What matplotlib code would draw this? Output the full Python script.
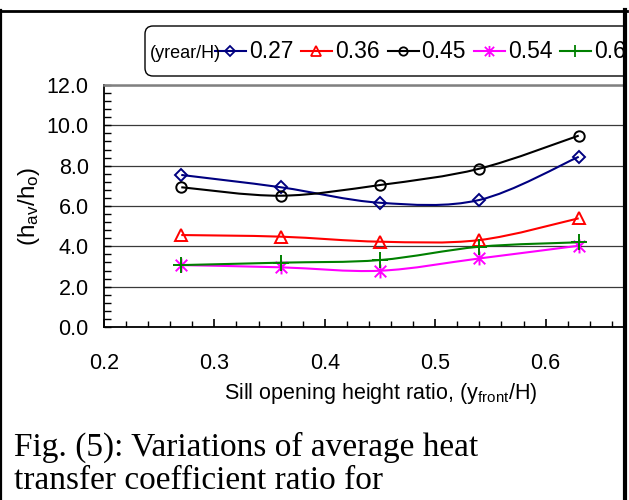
import matplotlib
matplotlib.use("Agg")
import matplotlib.pyplot as plt
from matplotlib.path import Path
from matplotlib.patches import PathPatch, FancyBboxPatch, Rectangle
from matplotlib.lines import Line2D
from matplotlib.ticker import MultipleLocator, FormatStrFormatter

plt.rcParams["font.family"] = ["Liberation Sans", "DejaVu Sans"]

# ---- Data ----
x_ratio = [0.27, 0.36, 0.45, 0.54, 0.63]
h_027 = [7.54, 6.93, 6.16, 6.30, 8.44]
h_036 = [4.56, 4.48, 4.23, 4.31, 5.39]
h_045 = [6.93, 6.51, 7.04, 7.85, 9.49]
h_054 = [3.07, 2.96, 2.79, 3.40, 4.03]
h_063 = [3.07, 3.19, 3.32, 3.98, 4.20]
series_labels = ["0.27", "0.36", "0.45", "0.54", "0.63"]
x_ticks = [0.2, 0.3, 0.4, 0.5, 0.6]

# Excel style star marker: an X with a vertical bar
star = Path([(-1, -1), (1, 1), (-1, 1), (1, -1), (0, -1.2), (0, 1.2)],
            [Path.MOVETO, Path.LINETO] * 3)

styles = [
    dict(color="#000080", marker="D", ms=6.5),
    dict(color="#FF0000", marker="^", ms=9),
    dict(color="#000000", marker="o", ms=7.5),
    dict(color="#FF00FF", marker=star, ms=10),
    dict(color="#008000", marker="+", ms=11),
]


def smooth_path(xs, ys):
    # smoothed line like Excel: cubic Bezier through each point
    pts = list(zip(xs, ys))
    verts = [pts[0]]
    codes = [Path.MOVETO]
    n = len(pts)
    for i in range(n - 1):
        p0 = pts[max(i - 1, 0)]
        p1 = pts[i]
        p2 = pts[i + 1]
        p3 = pts[min(i + 2, n - 1)]
        c1 = (p1[0] + (p2[0] - p0[0]) / 6, p1[1] + (p2[1] - p0[1]) / 6)
        c2 = (p2[0] - (p3[0] - p1[0]) / 6, p2[1] - (p3[1] - p1[1]) / 6)
        verts += [c1, c2, p2]
        codes += [Path.CURVE4] * 3
    return Path(verts, codes)


W, H = 629, 500
fig = plt.figure(figsize=(W / 100, H / 100), dpi=100)
# plot area runs past the right edge of the picture (it was cropped)
ax = fig.add_axes([104 / W, 1 - 327 / H, (656 - 104) / W, (327 - 85) / H])

all_series = [h_027, h_036, h_045, h_054, h_063]
for ys, st in zip(all_series, styles):
    ax.add_patch(PathPatch(smooth_path(x_ratio, ys), facecolor="none",
                           edgecolor=st["color"], lw=1.5, zorder=3))
    ax.plot(x_ratio, ys, linestyle="none", marker=st["marker"], ms=st["ms"],
            mec=st["color"], mfc="none", mew=1.4, zorder=4)

ax.set_xlim(0.2, 0.7)
ax.set_ylim(0, 12)
ax.xaxis.set_major_locator(MultipleLocator(0.1))
ax.xaxis.set_minor_locator(MultipleLocator(0.02))
ax.yaxis.set_major_locator(MultipleLocator(2))
ax.yaxis.set_minor_locator(MultipleLocator(0.4))
ax.set_xticks(x_ticks)
ax.xaxis.set_major_formatter(FormatStrFormatter("%.1f"))
ax.yaxis.set_major_formatter(FormatStrFormatter("%.1f"))
ax.tick_params(which="both", direction="in", labelsize=15.5)
ax.tick_params(axis="x", which="major", length=6, width=1.2, pad=18.5)
ax.tick_params(axis="x", which="minor", length=4, width=1)
ax.tick_params(axis="y", which="major", length=5, width=1, pad=11)
ax.tick_params(axis="y", which="minor", length=5, width=1)
ax.grid(axis="y", which="major", color="#3a3a3a", lw=0.9)
ax.set_axisbelow(True)

for s in ["left", "bottom"]:
    ax.spines[s].set_linewidth(1.3)
ax.spines["top"].set_color("#808080")
ax.spines["top"].set_linewidth(1.8)
ax.spines["right"].set_visible(False)

ax.set_ylabel(r"($\mathregular{h_{av}/h_o}$)", fontsize=17.5)
ax.yaxis.set_label_coords((42 - 104) / 552, 0.5)
ax.set_xlabel(r"Sill opening height ratio, ($\mathregular{y_{front}}$/H)", fontsize=15.5)
ax.xaxis.set_label_coords((381 - 104) / 552, (327 - 381) / 242)

# ---- legend drawn by hand (inches from bottom-left) ----
tr = fig.dpi_scale_trans
box = FancyBboxPatch((145 / 100, (H - 76) / 100), 6.0, 0.50,
                     boxstyle="round,pad=0,rounding_size=0.08",
                     transform=tr, facecolor="white", edgecolor="black",
                     lw=1.0, zorder=5)
fig.patches.append(box)
fig.text(150 / 100, (H - 53) / 100, "(yrear/H)", transform=tr, fontsize=13,
         va="center", ha="left", zorder=6)
leg_y = (H - 51) / 100
for i, (lab, st) in enumerate(zip(series_labels, styles)):
    x0 = 215 + i * 86.3
    fig.add_artist(Line2D([x0 / 100, (x0 + 31) / 100], [leg_y, leg_y],
                          transform=tr, color=st["color"], lw=1.5, zorder=6))
    fig.add_artist(Line2D([(x0 + 15) / 100], [leg_y], transform=tr,
                          marker=st["marker"], ms=st["ms"] * 0.8,
                          mec=st["color"], mfc="none", mew=1.3, zorder=7))
    fig.text((x0 + 34) / 100, leg_y, lab, transform=tr, fontsize=16.5,
             va="center", ha="left", zorder=6)

# ---- caption ----
fig.text(14 / W, 1 - 456 / H, "Fig. (5): Variations of average heat",
         family=["Liberation Serif", "DejaVu Serif"], fontsize=24,
         va="baseline", ha="left")
fig.text(14 / W, 1 - 489 / H, "transfer coefficient ratio for",
         family=["Liberation Serif", "DejaVu Serif"], fontsize=24,
         va="baseline", ha="left")

# ---- outer frame ----
fig.patches.append(Rectangle((627 / W, 0), 2 / W, 1, transform=fig.transFigure,
                             facecolor="white", edgecolor="none", zorder=9))
fig.add_artist(Line2D([1 / W, 1 / W], [0, 1 - 10 / H], color="black", lw=1.6,
                      transform=fig.transFigure, zorder=10))
fig.add_artist(Line2D([0, 627 / W], [1 - 11 / H, 1 - 11 / H], color="black",
                      lw=2.0, transform=fig.transFigure, zorder=10))
fig.add_artist(Line2D([624.5 / W, 624.5 / W], [0, 1 - 10 / H], color="black",
                      lw=3.0, transform=fig.transFigure, zorder=10))

fig.savefig("out.png", dpi=100)
